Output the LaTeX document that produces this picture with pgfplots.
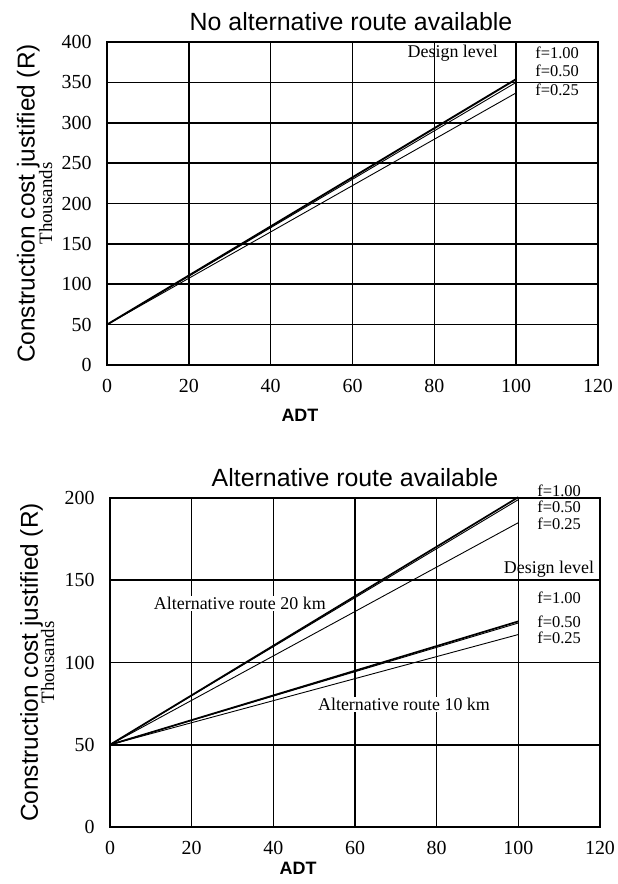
\documentclass[border=0pt]{standalone}
\usepackage{fontspec}
\setmainfont{Liberation Serif}
\setsansfont{Liberation Sans}
\usepackage{pgfplots}
\pgfplotsset{compat=1.18}
\tikzset{lab/.style={font=\fontsize{18}{19}\selectfont, inner sep=0pt},
         flab/.style={font=\fontsize{16.5}{17}\selectfont, inner sep=0pt}}
\pgfplotsset{
  common/.style={
    scale only axis,
    clip=false,
    xmin=0, xmax=120,
    xtick={0,20,...,120},
    grid=major,
    grid style={black, line width=1.6bp},
    axis line style={black, line width=1.6bp},
    tick style={draw=none},
    /pgf/number format/assume math mode=true,
    ticklabel style={font=\fontsize{20}{22}\selectfont},
    xticklabel style={yshift=-11bp},
    yticklabel style={xshift=-12bp},
    xlabel={ADT},
    xlabel style={font=\sffamily\bfseries\fontsize{18}{20}\selectfont, anchor=center},
    title style={font=\sffamily\fontsize{25}{27}\selectfont, anchor=base},
    ylabel={Construction cost justified (R)},
    ylabel style={font=\sffamily\fontsize{24.5}{26}\selectfont, at={(rel axis cs:-0.16,0.5)}, anchor=center},
  },
}
\begin{document}
\begin{tikzpicture}
\useasboundingbox (0,0) rectangle (618bp,884bp);
% ---------- top
\begin{axis}[common,
  at={(107bp,519bp)}, anchor=south west,
  width=491bp, height=323bp,
  ymin=0, ymax=400, ytick={0,50,...,400},
  title={No alternative route available},
  title style={at={(rel axis cs:0.497,1.016)}},
  xlabel style={at={(rel axis cs:0.393,-0.155)}},
]
\addplot[black, line width=1.9bp] coordinates {(0,50) (100,354)};
\addplot[black, line width=0.9bp] coordinates {(0,50) (100,350)};
\addplot[black, line width=0.9bp] coordinates {(0,50) (100,337)};
\node[rotate=90, font=\fontsize{19}{20}\selectfont] at (rel axis cs:-0.125,0.5) {Thousands};
\node[lab] at (axis cs:84.5,386) {Design level};
\node[flab] at (axis cs:110,386) {f=1.00};
\node[flab] at (axis cs:110,364) {f=0.50};
\node[flab] at (axis cs:110,341) {f=0.25};
\end{axis}
% ---------- bottom
\begin{axis}[common,
  at={(110bp,57bp)}, anchor=south west,
  width=490bp, height=329bp,
  ymin=0, ymax=200, ytick={0,50,...,200},
  title={Alternative route available},
  title style={at={(rel axis cs:0.5,1.016)}},
  xlabel style={at={(rel axis cs:0.384,-0.125)}},
]
\addplot[black, line width=1.7bp] coordinates {(0,50) (100,200.5)};
\addplot[black, line width=0.9bp] coordinates {(0,50) (100,199)};
\addplot[black, line width=0.9bp] coordinates {(0,50) (100,185)};
\addplot[black, line width=1.7bp] coordinates {(0,50) (100,125)};
\addplot[black, line width=0.9bp] coordinates {(0,50) (100,124)};
\addplot[black, line width=0.9bp] coordinates {(0,50) (100,117)};
\node[rotate=90, font=\fontsize{19}{20}\selectfont] at (rel axis cs:-0.127,0.5) {Thousands};
\node[flab] at (axis cs:110,204.5) {f=1.00};
\node[flab] at (axis cs:110,194.5) {f=0.50};
\node[flab] at (axis cs:110,184.5) {f=0.25};
\node[lab] at (axis cs:107.5,157) {Design level};
\node[flab] at (axis cs:110,139.5) {f=1.00};
\node[flab] at (axis cs:110,125) {f=0.50};
\node[flab] at (axis cs:110,115) {f=0.25};
\node[lab, fill=white, inner sep=1bp] at (axis cs:31.8,136) {Alternative route 20 km};
\node[lab, fill=white, inner sep=1bp] at (axis cs:72,74.5) {Alternative route 10 km};
\end{axis}
\end{tikzpicture}
\end{document}
